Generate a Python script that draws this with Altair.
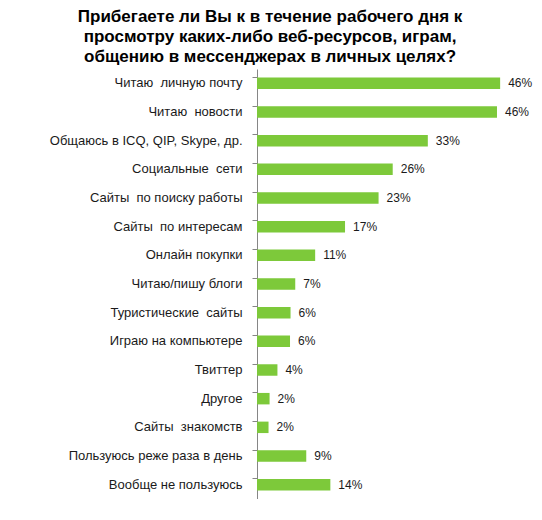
import altair as alt
import pandas as pd

NB = "\u00a0"
categories = [
    "Читаю" + NB + " личную почту",
    "Читаю" + NB + " новости",
    "Общаюсь в ICQ, QIP, Skype, др.",
    "Социальные" + NB + " сети",
    "Сайты" + NB + " по поиску работы",
    "Сайты" + NB + " по интересам",
    "Онлайн покупки",
    "Читаю/пишу блоги",
    "Туристические" + NB + " сайты",
    "Играю на компьютере",
    "Твиттер",
    "Другое",
    "Сайты" + NB + " знакомств",
    "Пользуюсь реже раза в день",
    "Вообще не пользуюсь",
]
values = [46.4, 45.8, 32.6, 25.9, 23.2, 16.8, 11.1, 7.3, 6.4, 6.3, 3.9, 2.4, 2.2, 9.4, 14.0]
labels = ["46%", "46%", "33%", "26%", "23%", "17%", "11%", "7%", "6%", "6%", "4%", "2%", "2%", "9%", "14%"]

df = pd.DataFrame({"cat": categories, "val": values, "lab": labels})

FONT = "Liberation Sans"

y = alt.Y(
    "cat:N",
    sort=categories,
    title=None,
    scale=alt.Scale(paddingInner=0.6, paddingOuter=0.3),
    axis=alt.Axis(
        bandPosition=0,
        domainColor="#868686",
        tickColor="#868686",
        tickSize=5,
        labelPadding=10,
        labelFont=FONT,
        labelFontSize=13,
        labelColor="#1a1a1a",
        labelLimit=300,
        minExtent=249,
    ),
)
x = alt.X(
    "val:Q",
    title=None,
    scale=alt.Scale(domain=[0, 50], nice=False),
    axis=None,
)

bars = alt.Chart(df).mark_bar(color="#7DC93A").encode(x=x, y=y)
text = alt.Chart(df).mark_text(
    align="left", dx=8, font=FONT, fontSize=12, color="#1a1a1a"
).encode(x=x, y=y, text="lab:N")

chart = (
    (bars + text)
    .properties(
        width=262,
        height=430,
        padding={"left": 0, "right": 0, "top": 0, "bottom": 0},
        background="white",
        title=alt.TitleParams(
            text=[
                "Прибегаете ли Вы к в течение рабочего дня к",
                "просмотру каких-либо веб-ресурсов, играм,",
                "общению в мессенджерах в личных целях?",
            ],
            font=FONT,
            fontSize=17,
            fontWeight="bold",
            color="#000000",
            anchor="middle",
            frame="bounds",
            lineHeight=20,
            offset=3,
        ),
    )
    .configure_view(stroke="transparent", strokeWidth=0)
)

chart.save("out.html", embed_options={"renderer": "svg", "actions": False})
